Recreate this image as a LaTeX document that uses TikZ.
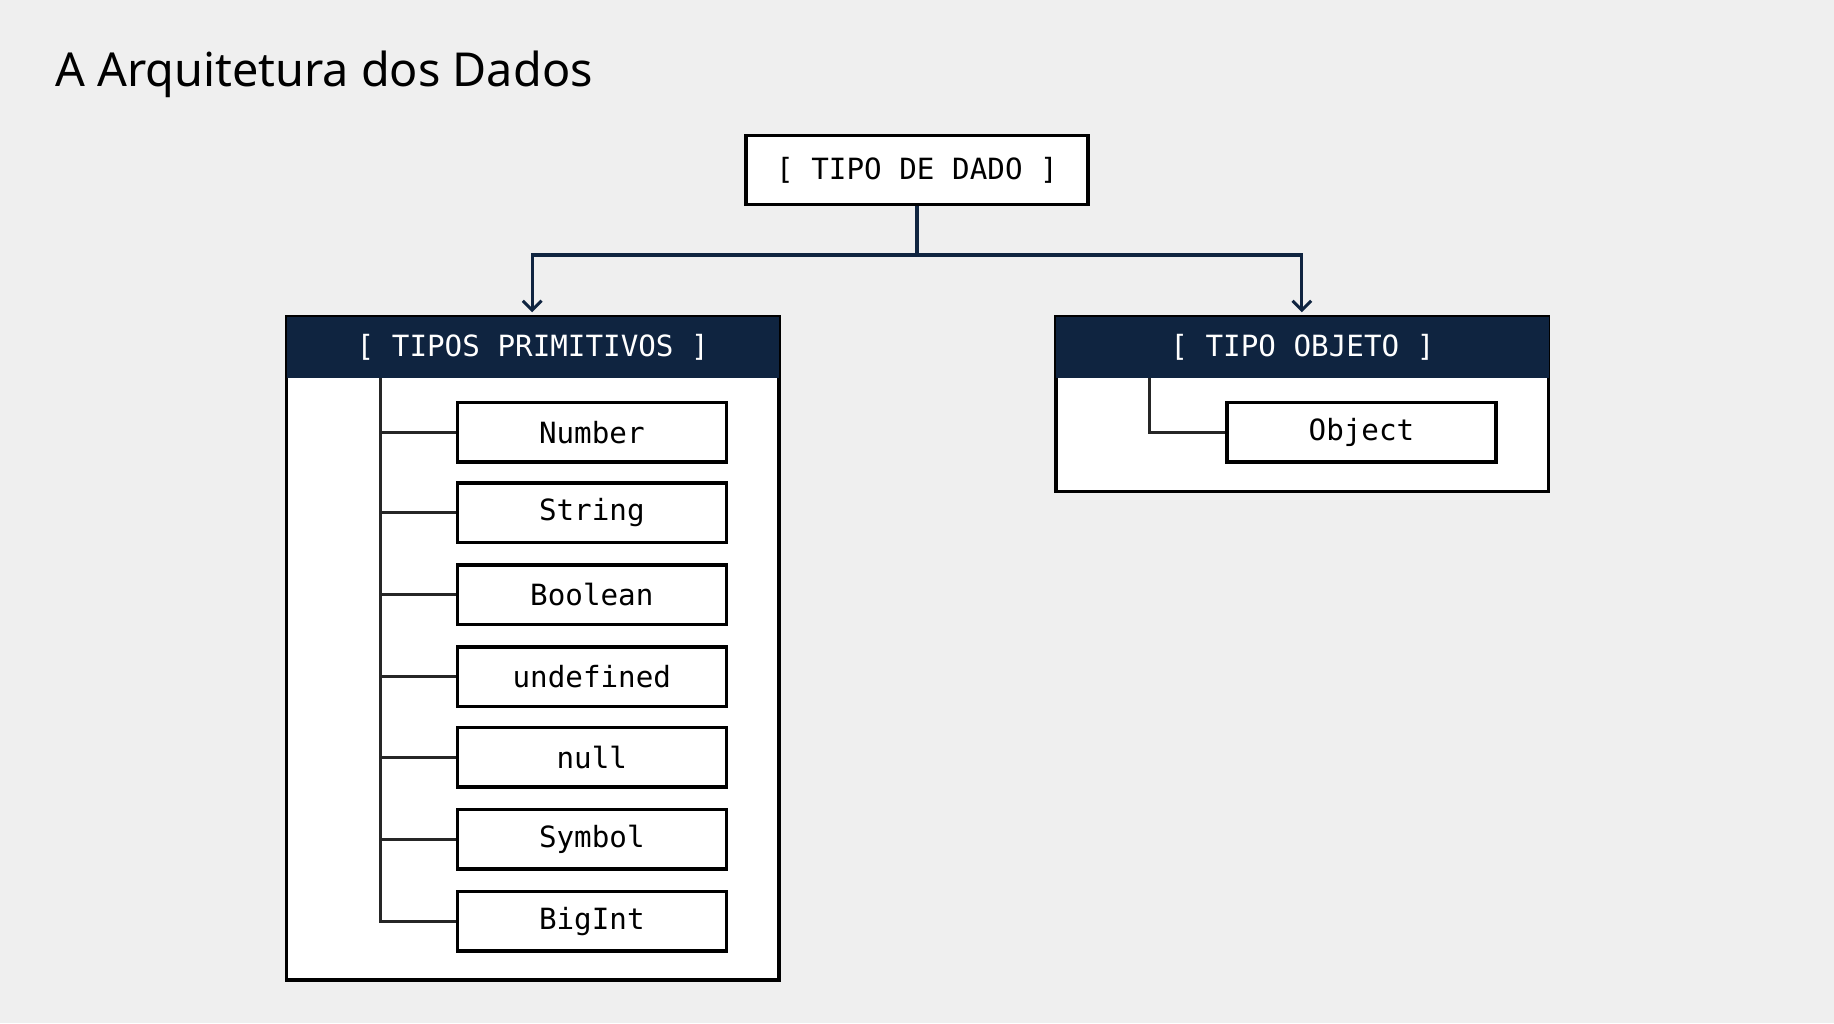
\documentclass[tikz,border=0pt]{standalone}
\usepackage{fontspec}
\setmainfont{Noto Sans}
\newfontfamily\monof{DejaVu Sans Mono}
\usetikzlibrary{arrows.meta}
\begin{document}
\begin{tikzpicture}[x=1pt,y=-1pt,
  box/.style={draw=black,line width=3pt,fill=white,inner sep=0pt,font=\monof\fontsize{25}{29}\selectfont},
  item/.style={box,minimum width=230pt,minimum height=51pt},
  link/.style={line width=2.6pt,draw=black!85},
  arr/.style={line width=2.6pt,draw=navy,-{Straight Barb[length=8pt,width=16pt]}}]
\definecolor{navy}{HTML}{0F2440}
\fill[fill={rgb,255:red,239;green,239;blue,239}] (0,0) rectangle (1568,875);
\useasboundingbox (0,0) rectangle (1568,875);
\node[anchor=base west,font=\fontsize{40}{46}\selectfont,inner sep=0pt] (title) at (47,74) {A Arquitetura dos Dados};
\node[box,minimum width=292pt,minimum height=59pt] (root) at (784,145.5) {[ TIPO DE DADO ]};
\draw[line width=3pt,fill=white] (245,271) rectangle (666,838);
\fill[navy] (245,271) rectangle (666,323);
\node[text=white,font=\monof\fontsize{25}{29}\selectfont] (prim) at (455.5,297) {[ TIPOS PRIMITIVOS ]};
\draw[line width=3pt,fill=white] (903,271) rectangle (1324,420);
\fill[navy] (903,271) rectangle (1324,323);
\node[text=white,font=\monof\fontsize{25}{29}\selectfont] (obj) at (1113.5,297) {[ TIPO OBJETO ]};
\coordinate (pt) at (455,267);
\coordinate (ot) at (1113,267);
\draw[line width=2.6pt,draw=navy] (root.south) -- (784,218) coordinate (mid);
\draw[arr] (mid) -| (pt);
\draw[arr] (mid) -| (ot);
\coordinate (spine) at (325,323);
\foreach \t/\y [count=\i] in {Number/369.5,String/438.5,Boolean/508.5,undefined/578.5,null/647.5,Symbol/717.5,BigInt/787.5}{
  \node[item] (p\i) at (506,\y) {\t};
  \draw[link] (p\i.west) -- (325,\y);
}
\draw[link] (spine) -- (325,788.8);
\node[item] (o1) at (1164,369.5) {Object};
\coordinate (os) at (983,323);
\draw[link] (os) |- (o1.west);
\end{tikzpicture}
\end{document}
